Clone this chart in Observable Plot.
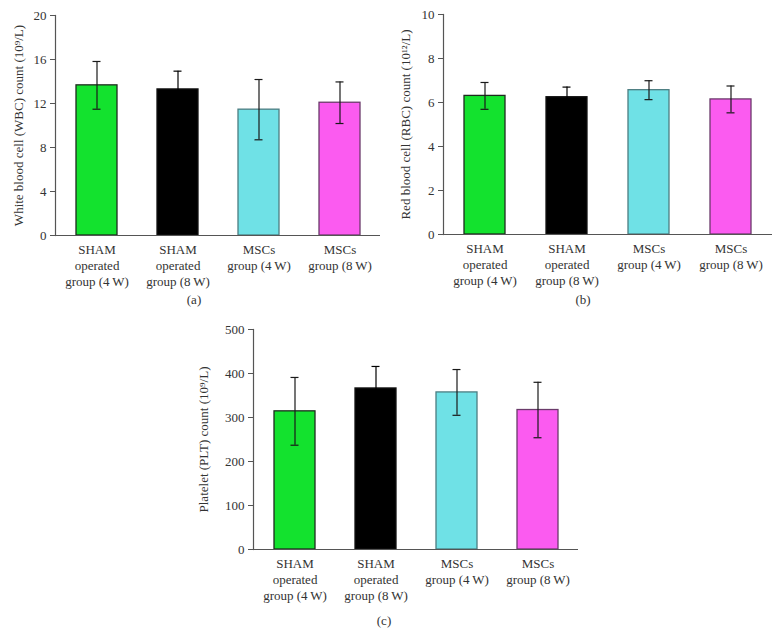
<!DOCTYPE html>
<html>
<head>
<meta charset="utf-8">
<script src="https://cdn.jsdelivr.net/npm/d3@7"></script>
<script src="https://cdn.jsdelivr.net/npm/@observablehq/plot@0.6"></script>
<style>
  html, body { margin: 0; padding: 0; background: #fff; }
  #wrap { position: relative; width: 776px; height: 633px; font-family: "Liberation Serif", "Times New Roman", serif; color: #333; }
  .panel { position: absolute; }
  .panel svg text { font-size: 13px; }
  .cap { position: absolute; font-size: 13px; transform: translate(-50%, -50%); white-space: nowrap; color: #333; }
</style>
</head>
<body>
<div id="wrap">
  <div class="panel" id="pa" style="left:0px;top:0px"></div>
  <div class="panel" id="pb" style="left:388px;top:0px"></div>
  <div class="panel" id="pc" style="left:190px;top:315px"></div>
  <div class="cap" style="left:194px;top:300px">(a)</div>
  <div class="cap" style="left:583px;top:300px">(b)</div>
  <div class="cap" style="left:384px;top:621px">(c)</div>
</div>
<script>
const categories = [
  "SHAM\noperated\ngroup (4\u2009W)",
  "SHAM\noperated\ngroup (8\u2009W)",
  "MSCs\ngroup (4\u2009W)",
  "MSCs\ngroup (8\u2009W)"
];
const barFills   = ["#13e22e", "#000000", "#6fe1e6", "#fb5bf0"];
const barStrokes = ["#1e2a1e", "#111111", "#4c7d82", "#6b3b6b"];

const wbcMean = [13.65, 13.28, 11.44, 12.07];
const wbcErr  = [2.17, 1.66, 2.74, 1.89];
const wbcTicks = [0, 4, 8, 12, 16, 20];

const rbcMean = [6.30, 6.24, 6.56, 6.14];
const rbcErr  = [0.61, 0.46, 0.43, 0.61];
const rbcTicks = [0, 2, 4, 6, 8, 10];

const pltMean = [314, 366, 357, 317];
const pltErr  = [77, 50, 52, 63];
const pltTicks = [0, 100, 200, 300, 400, 500];

function panel({means, errs, ticks, label, width, height, marginLeft, marginRight, marginTop, marginBottom, labelOffset}) {
  const data = categories.map((c, i) => ({
    cat: c, mean: means[i], lo: means[i] - errs[i], hi: means[i] + errs[i],
    fill: barFills[i], stroke: barStrokes[i],
    err: barFills[i] === "#000000" ? "#000000" : "#1a1a1a"
  }));
  return Plot.plot({
    width, height, marginLeft, marginRight, marginTop, marginBottom,
    style: {fontFamily: "Liberation Serif, Times New Roman, serif", fontSize: "13px", color: "#333", background: "transparent"},
    x: {domain: categories, paddingInner: 0.5, paddingOuter: 0.255, label: null},
    y: {domain: [ticks[0], ticks[ticks.length - 1]], label: null},
    marks: [
      Plot.barY(data, {x: "cat", y: "mean", fill: d => d.fill, stroke: d => d.stroke, strokeWidth: 1.3}),
      Plot.ruleX(data, {x: "cat", y1: "lo", y2: "hi", stroke: d => d.err, strokeWidth: 1.2}),
      Plot.tickY(data, {x: "cat", y: "hi", stroke: d => d.err, strokeWidth: 1.2, insetLeft: 16.5, insetRight: 16.5}),
      Plot.tickY(data, {x: "cat", y: "lo", stroke: d => d.err, strokeWidth: 1.2, insetLeft: 16.5, insetRight: 16.5}),
      Plot.frame({anchor: "left", stroke: "#555", strokeWidth: 1.2}),
      Plot.ruleY([0], {stroke: "#555", strokeWidth: 1.2}),
      Plot.axisY({ticks, tickSize: 5, tickPadding: 4, stroke: "#555", fill: "#333", fontSize: 13,
        label, labelAnchor: "center", labelOffset, labelArrow: "none"}),
      Plot.axisX({tickSize: 0, tickPadding: 7, fontSize: 13, lineHeight: 1.23, fill: "#333", label: null, tickFormat: d => d})
    ]
  });
}

document.getElementById("pa").appendChild(panel({
  means: wbcMean, errs: wbcErr, ticks: wbcTicks,
  label: "White blood cell (WBC) count (10\u2079/L)",
  width: 390, height: 300, marginLeft: 55, marginRight: 10, marginTop: 15, marginBottom: 65, labelOffset: 42
}));
document.getElementById("pb").appendChild(panel({
  means: rbcMean, errs: rbcErr, ticks: rbcTicks,
  label: "Red blood cell (RBC) count (10\u00b9\u00b2/L)",
  width: 388, height: 300, marginLeft: 55, marginRight: 4, marginTop: 14, marginBottom: 66, labelOffset: 43
}));
document.getElementById("pc").appendChild(panel({
  means: pltMean, errs: pltErr, ticks: pltTicks,
  label: "Platelet (PLT) count (10\u2079/L)",
  width: 400, height: 300, marginLeft: 63, marginRight: 12, marginTop: 14, marginBottom: 66, labelOffset: 55
}));
</script>
</body>
</html>
